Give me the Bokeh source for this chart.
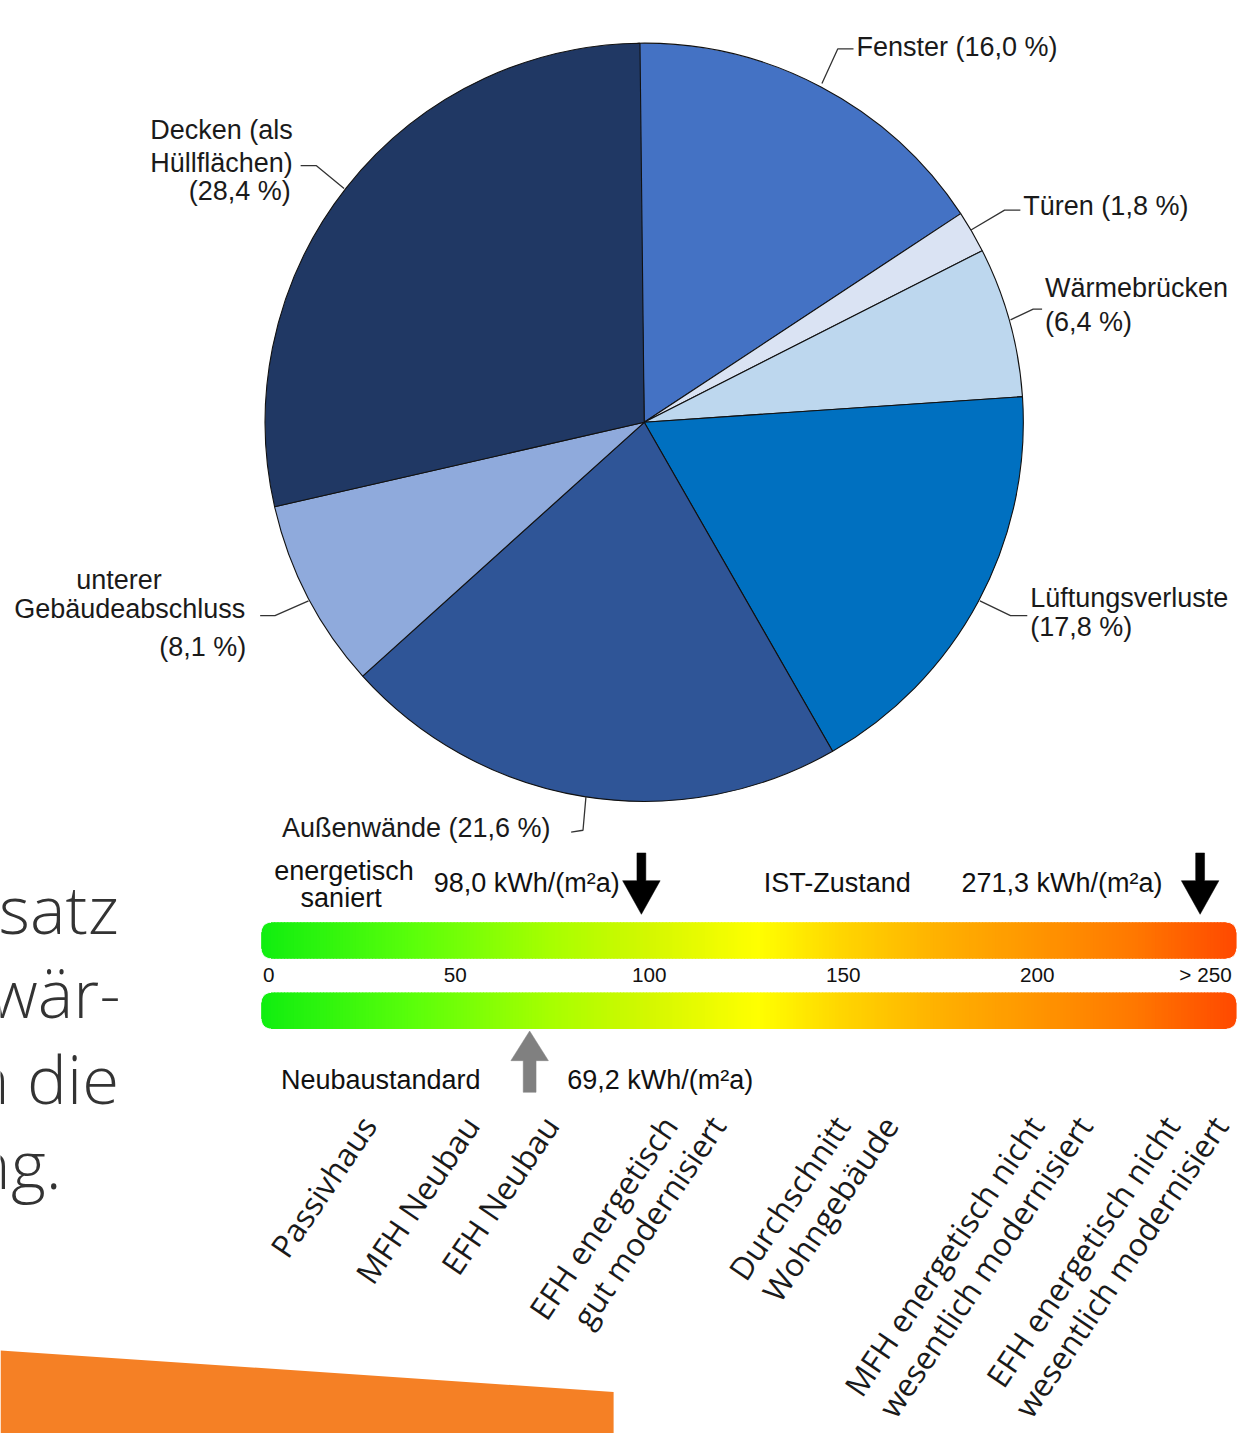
import numpy as np
from bokeh.plotting import figure
from bokeh.models import Range1d
from bokeh.core.properties import value
from bokeh.embed import file_html
from bokeh.resources import INLINE

# ---------------- data ----------------
slice_names = ["Fenster", "Türen", "Wärmebrücken", "Lüftungsverluste",
               "Außenwände", "unterer\nGebäudeabschluss", "Decken (als\nHüllflächen)"]
slice_pct = [16.0, 1.8, 6.4, 17.8, 21.6, 8.1, 28.4]
slice_colors = ["#4472C4", "#DAE3F3", "#BDD7EE", "#0070C0", "#2F5597", "#8FAADC", "#203864"]

scale_ticks = [0, 50, 100, 150, 200, 250]
scale_tick_labels = ["0", "50", "100", "150", "200", "> 250"]

marker_names = ["energetisch\nsaniert", "IST-Zustand", "Neubaustandard"]
marker_values = [98.0, 271.3, 69.2]

building_types = ["Passivhaus", "MFH Neubau", "EFH Neubau",
                  "EFH energetisch\ngut modernisiert", "Durchschnitt\nWohngebäude",
                  "MFH energetisch nicht\nwesentlich modernisiert",
                  "EFH energetisch nicht\nwesentlich modernisiert"]
building_scale_pos = [23, 49.5, 70, 100.5, 145, 195, 230]

side_text = ["satz", "wär-", "n die", "ng."]

# ---------------- layout ----------------
W, H = 1243, 1433
REF_W, REF_H = 1259, 1449
FS = W / REF_W
def Y(py):
    return REF_H - np.asarray(py, dtype=float)
def fpx(s):
    return value(f"{s * FS:.1f}px")

p = figure(width=W, height=H, x_range=Range1d(0, REF_W), y_range=Range1d(0, REF_H),
           output_backend="svg", toolbar_location=None, min_border=0)
p.axis.visible = False
p.grid.visible = False
p.outline_line_color = None
p.background_fill_color = "white"
p.border_fill_color = "white"

SANS = value("Liberation Sans")
OPEN = value("Open Sans")

def fmt(v):
    return f"{v:.1f}".replace(".", ",")

# ---------------- pie ----------------
cx, cy, R = 652, 426.5, 384
start0 = 91.0
cum = np.concatenate([[0], np.cumsum(slice_pct)])
a_start = np.deg2rad(start0 - cum[:-1] * 3.6)
a_end = np.deg2rad(start0 - cum[1:] * 3.6)
n = len(slice_pct)
p.wedge(x=[cx] * n, y=list(Y([cy] * n)), radius=R,
        start_angle=list(a_end), end_angle=list(a_start), direction="anticlock",
        fill_color=slice_colors, line_color="#111111", line_width=1.1)

# label layout per slice: percent on new line?, and (x, y, align) of each line
pie_label_layout = [
    (False, [(867, 47, "left")]),
    (False, [(1036, 208, "left")]),
    (True, [(1058, 291, "left"), (1058, 325, "left")]),
    (True, [(1043, 604, "left"), (1043, 633, "left")]),
    (False, [(285, 837, "left")]),
    (True, [(120, 586, "center"), (248, 615, "right"), (249, 654, "right")]),
    (True, [(296, 131, "right"), (296, 164, "right"), (294, 193, "right")]),
]
leaders = [
    [(832, 84), (848, 49), (864, 49)],
    [(983, 232), (1017, 212), (1033, 212)],
    [(1023, 323), (1046, 312), (1055, 312)],
    [(992, 607), (1023, 622), (1040, 622)],
    [(593, 805), (590, 839), (578, 841)],
    [(312, 607), (278, 622), (263, 622)],
    [(348, 190), (320, 167), (304, 167)],
]
tx, ty, tt, ta = [], [], [], []
for name, pct, (newline, spec) in zip(slice_names, slice_pct, pie_label_layout):
    pct_s = f"({fmt(pct)} %)"
    lines = name.split("\n")
    if newline:
        lines = lines + [pct_s]
    else:
        lines[-1] = lines[-1] + " " + pct_s
    for ln, (lx, ly, la) in zip(lines, spec):
        tx.append(lx); ty.append(ly); tt.append(ln); ta.append(la)
p.text(x=tx, y=list(Y(ty)), text=tt, text_align=ta, text_baseline="middle",
       text_font=SANS, text_font_size=fpx(27.3), text_color="#1a1a1a")
p.multi_line(xs=[[pt[0] for pt in l] for l in leaders],
             ys=[list(Y([pt[1] for pt in l])) for l in leaders],
             line_color="#333333", line_width=1.3)

# ---------------- energy scale ----------------
X0, PXU = 264.0, 3.93
BAR_L, BAR_R = 264, 1252
SCALE_CAP = 242
def sx(v):
    return X0 + PXU * min(v, SCALE_CAP)

stops_v = [0, 40, 75, 100, 128, 150, 175, 200, 225, 251.5]
stops_c = ["#10EE10", "#5CFF0A", "#A8FF00", "#D4F800", "#FFFF00", "#FFD500",
           "#FFB000", "#FF9500", "#FF7800", "#FF4800"]
stops_rgb = np.array([[int(c[i:i + 2], 16) for i in (1, 3, 5)] for c in stops_c], float)

edges = np.linspace(BAR_L, BAR_R, 300)
centers = (edges[:-1] + edges[1:]) / 2
vals = (centers - X0) / PXU
cols = []
for v in vals:
    rgb = [np.interp(v, stops_v, stops_rgb[:, k]) for k in range(3)]
    cols.append("#%02x%02x%02x" % tuple(int(round(c)) for c in rgb))
rights = np.minimum(edges[1:] + 1.0, BAR_R)

bars = [(932, 969), (1003, 1040)]
for (t, b) in bars:
    p.quad(left=edges[:-1], right=rights, top=list(Y([t] * len(cols))),
           bottom=list(Y([b] * len(cols))), fill_color=cols, line_color=None)

# rounded-corner masks (white), sxg/syg point inward from the corner (screen coords)
def corner_mask(cxr, cyr, sxg, syg, r=10, k=12):
    ccx, ccy = cxr + sxg * r, cyr + syg * r
    t = np.linspace(0, np.pi / 2, k)
    arc_x = list(ccx - sxg * r * np.cos(t))
    arc_y = list(ccy - syg * r * np.sin(t))
    px = [cxr - sxg * 2, cxr - sxg * 2] + arc_x + [cxr + sxg * r]
    py = [cyr - syg * 2, cyr + syg * r] + arc_y + [cyr - syg * 2]
    return px, list(Y(py))

mx, my = [], []
for (t, b) in bars:
    for (cxr, cyr, sxg, syg) in [(BAR_L, t, 1, 1), (BAR_R, t, -1, 1),
                                 (BAR_L, b, 1, -1), (BAR_R, b, -1, -1)]:
        a, c = corner_mask(cxr, cyr, sxg, syg)
        mx.append(a); my.append(c)
p.patches(xs=mx, ys=my, fill_color="white", line_color="white", line_width=1)

# tick labels
tk_x, tk_a = [], []
for v in scale_ticks:
    if v == scale_ticks[0]:
        tk_x.append(BAR_L + 2); tk_a.append("left")
    elif v == scale_ticks[-1]:
        tk_x.append(BAR_R - 5); tk_a.append("right")
    else:
        tk_x.append(X0 + PXU * v); tk_a.append("center")
p.text(x=tk_x, y=list(Y([985] * len(tk_x))), text=scale_tick_labels, text_align=tk_a,
       text_baseline="middle", text_font=SANS, text_font_size=fpx(21), text_color="#111111")

# arrows
def arrow_poly(x, tip_y, direction, length, shaft_w, head_w, head_l):
    d = 1 if direction == "down" else -1
    base = tip_y - d * length
    neck = tip_y - d * head_l
    xs = [x - shaft_w / 2, x + shaft_w / 2, x + shaft_w / 2, x + head_w / 2, x,
          x - head_w / 2, x - shaft_w / 2]
    ys = [base, base, neck, neck, tip_y, neck, neck]
    return xs, list(Y(ys))

arrow_style = [("down", 924, 62, 9, 38, 34, "black"),
               ("down", 924, 62, 9, 38, 34, "black"),
               ("up", 1042, 62, 13, 38, 30, "#808080")]
ax, ay, ac = [], [], []
for v, (dirn, tip, L, sw, hw, hl, col) in zip(marker_values, arrow_style):
    a, b = arrow_poly(sx(v), tip, dirn, L, sw, hw, hl)
    ax.append(a); ay.append(b); ac.append(col)
p.patches(xs=ax, ys=ay, fill_color=ac, line_color=ac, line_width=0.5)

marker_layout = [
    ([(348, 880, "center"), (345, 908, "center")], (-22, 892, "right")),
    ([(773, 892, "left")], (-38, 892, "right")),
    ([(284, 1092, "left")], (38, 1092, "left")),
]
mt_x, mt_y, mt_t, mt_a = [], [], [], []
for name, v, (name_pos, (vdx, vy, va)) in zip(marker_names, marker_values, marker_layout):
    for ln, (lx, ly, la) in zip(name.split("\n"), name_pos):
        mt_x.append(lx); mt_y.append(ly); mt_t.append(ln); mt_a.append(la)
    mt_x.append(sx(v) + vdx); mt_y.append(vy); mt_t.append(f"{fmt(v)} kWh/(m²a)"); mt_a.append(va)
p.text(x=mt_x, y=list(Y(mt_y)), text=mt_t, text_align=mt_a, text_baseline="middle",
       text_font=SANS, text_font_size=fpx(27.3), text_color="#111111")

# rotated building-type labels
ANG = np.deg2rad(56)
line2_dx = 49
bx, by, bt = [], [], []
for name, pos in zip(building_types, building_scale_pos):
    for i, ln in enumerate(name.split("\n")):
        bx.append(X0 + PXU * pos + i * line2_dx)
        by.append(1119)
        bt.append(ln)
p.text(x=bx, y=list(Y(by)), text=bt, angle=ANG, text_align="right", text_baseline="top",
       text_font=OPEN, text_font_size=fpx(32), text_color="#1a1a1a")

# ---------------- surrounding page fragments ----------------
p.patch(x=[0, 621, 621, 0], y=list(Y([1365, 1407, 1449, 1449])), fill_color="#F58025",
        line_color=None)
side_x = [120, 122, 120, 62]
side_y = [918, 1003, 1090, 1175]
p.text(x=side_x, y=list(Y(side_y)), text=side_text, text_align="right",
       text_baseline="alphabetic", text_font=value("Open Sans Light"),
       text_font_size=fpx(68), text_color="#333333")

open("out.html", "w").write(file_html(p, INLINE))
